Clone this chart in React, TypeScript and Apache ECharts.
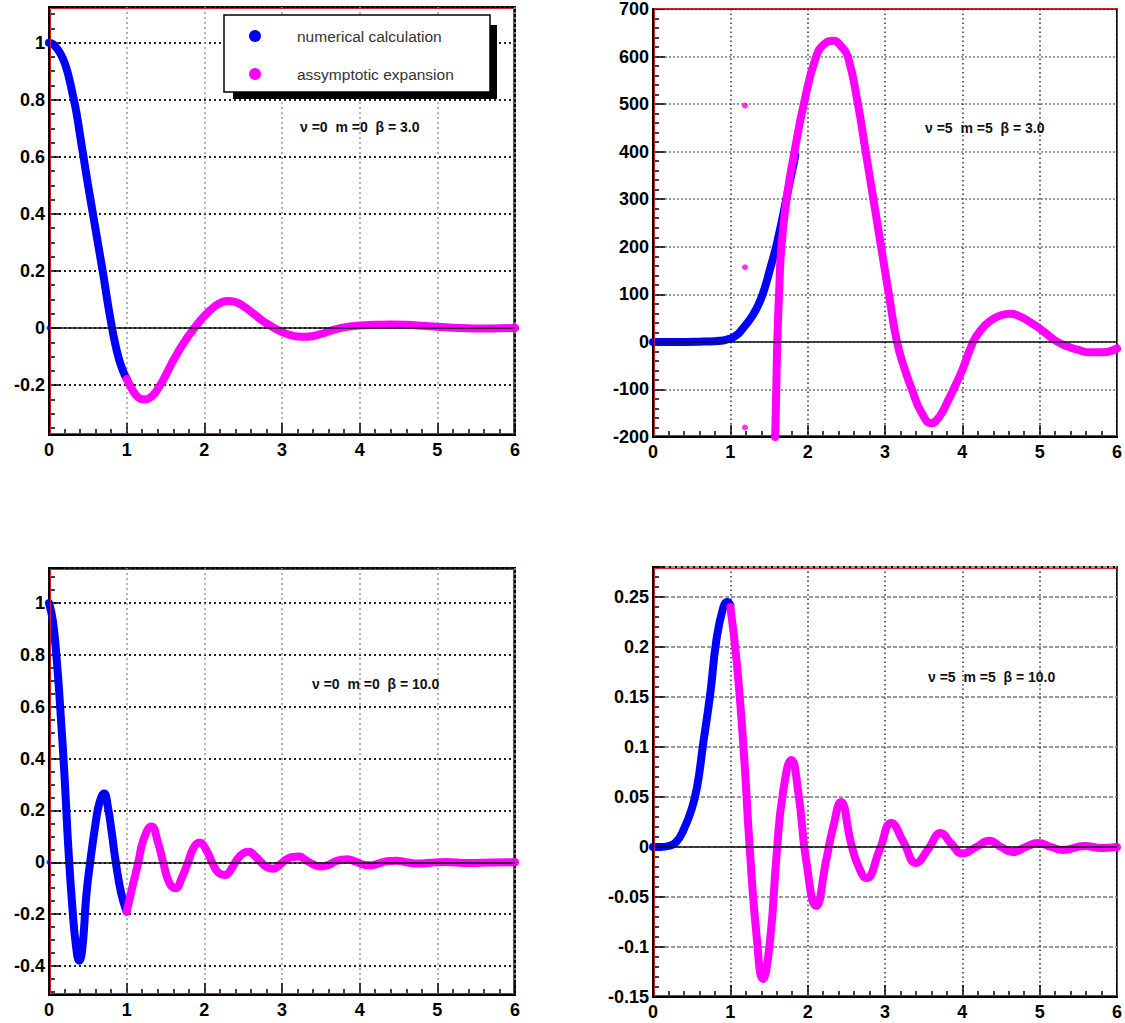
import React, { useEffect, useRef } from "react";
import * as echarts from "echarts";

type Pt = [number, number];

// ---------- data ----------
const legendLabels = ["numerical calculation", "assymptotic expansion"];
const panelTitles = [
  "ν =0  m =0  β = 3.0",
  "ν =5  m =5  β = 3.0",
  "ν =0  m =0  β = 10.0",
  "ν =5  m =5  β = 10.0",
];

// Panel 1: nu=0 m=0 beta=3
const p1Numerical: Pt[] = [
  [0, 1.0], [0.05, 0.995], [0.1, 0.98], [0.15, 0.96], [0.2, 0.93], [0.25, 0.885],
  [0.3, 0.825], [0.35, 0.76], [0.4, 0.675], [0.45, 0.59], [0.5, 0.505], [0.55, 0.425],
  [0.6, 0.345], [0.65, 0.265], [0.7, 0.185], [0.75, 0.098], [0.8, 0.018], [0.85, -0.052],
  [0.9, -0.108], [0.95, -0.148], [1.0, -0.178],
];
const p1Asymptotic: Pt[] = [
  [1.0, -0.178], [1.05, -0.205], [1.1, -0.228], [1.15, -0.243], [1.2, -0.25], [1.25, -0.25],
  [1.3, -0.244], [1.35, -0.232], [1.4, -0.214], [1.45, -0.192], [1.5, -0.167], [1.55, -0.14],
  [1.6, -0.114], [1.65, -0.09], [1.7, -0.067], [1.75, -0.046], [1.8, -0.026], [1.85, -0.008],
  [1.9, 0.01], [1.95, 0.027], [2.0, 0.042], [2.1, 0.068], [2.2, 0.087],
  [2.3, 0.095], [2.4, 0.091], [2.5, 0.077], [2.6, 0.057], [2.7, 0.036], [2.8, 0.016],
  [2.9, 0.0], [3.0, -0.014], [3.1, -0.024], [3.2, -0.03], [3.3, -0.031], [3.4, -0.028],
  [3.5, -0.021], [3.6, -0.012], [3.7, -0.004], [3.8, 0.002], [3.9, 0.006], [4.0, 0.009],
  [4.2, 0.011], [4.4, 0.012], [4.6, 0.011], [4.8, 0.008], [5.0, 0.004], [5.2, 0.001],
  [5.4, -0.001], [5.6, -0.002], [5.8, -0.001], [6.0, 0.0],
];
const p1Extra: Pt[] = [[0, 0]];

// Panel 2: nu=5 m=5 beta=3
const p2Numerical: Pt[] = [
  [0, 0], [0.3, 0], [0.6, 0.5], [0.8, 1.5], [0.9, 3], [1.0, 7], [1.08, 14], [1.16, 28],
  [1.22, 40], [1.29, 56], [1.36, 77], [1.42, 101], [1.47, 127], [1.52, 157], [1.58, 192],
  [1.63, 227], [1.68, 265], [1.72, 297], [1.76, 330], [1.8, 360], [1.84, 392],
];
const p2Asymptotic: Pt[] = [
  [1.58, -200], [1.594, -100], [1.607, 0], [1.63, 100], [1.66, 200], [1.727, 300],
  [1.83, 400], [1.95, 500], [2.11, 600], [2.22, 627], [2.336, 633], [2.44, 620],
  [2.52, 600], [2.65, 500], [2.75, 400], [2.85, 300], [2.95, 200], [3.05, 100],
  [3.155, 0], [3.25, -55], [3.35, -101], [3.47, -148], [3.6, -171], [3.7, -158],
  [3.82, -122], [3.92, -88], [4.0, -59], [4.14, 0], [4.25, 27], [4.37, 45], [4.5, 56],
  [4.62, 59], [4.75, 53], [4.88, 41], [5.0, 28], [5.12, 13], [5.23, 0], [5.37, -10],
  [5.5, -17], [5.65, -22], [5.8, -22], [6.0, -14],
];
const p2Stray: Pt[] = [[1.19, 497], [1.19, 157], [1.19, -180]];

// Panel 3: nu=0 m=0 beta=10
const p3Numerical: Pt[] = [
  [0, 1.0], [0.05, 0.93], [0.1, 0.78], [0.15, 0.57], [0.2, 0.33], [0.25, 0.05],
  [0.3, -0.17], [0.35, -0.33], [0.39, -0.38], [0.43, -0.33], [0.48, -0.13], [0.53, 0.0],
  [0.6, 0.15], [0.65, 0.23], [0.71, 0.265], [0.76, 0.21], [0.81, 0.11], [0.86, 0.0],
  [0.93, -0.12], [1.0, -0.19],
];
const p3Asymptotic: Pt[] = [
  [1.0, -0.19], [1.07, -0.1], [1.15, 0.0], [1.22, 0.09], [1.32, 0.138], [1.4, 0.08],
  [1.47, 0.0], [1.55, -0.08], [1.63, -0.1], [1.71, -0.06], [1.79, 0.0], [1.86, 0.055],
  [1.94, 0.076], [2.02, 0.05], [2.1, 0.0], [2.18, -0.04], [2.27, -0.049], [2.35, -0.025],
  [2.42, 0.01], [2.5, 0.035], [2.57, 0.041], [2.65, 0.025], [2.73, 0.0], [2.81, -0.02],
  [2.89, -0.025], [2.97, -0.01], [3.05, 0.01], [3.13, 0.02], [3.22, 0.022], [3.3, 0.01],
  [3.4, -0.008], [3.5, -0.016], [3.6, -0.01], [3.7, 0.005], [3.84, 0.012], [3.95, 0.002],
  [4.05, -0.009], [4.13, -0.012], [4.25, -0.004], [4.35, 0.004], [4.47, 0.006], [4.6, 0.0],
  [4.75, -0.005], [4.9, -0.002], [5.1, 0.001], [5.4, -0.003], [5.7, -0.001], [6.0, 0.0],
];
const p3Extra: Pt[] = [[0, 0]];

// Panel 4: nu=5 m=5 beta=10
const p4Numerical: Pt[] = [
  [0, 0], [0.1, 0], [0.2, 0.001], [0.3, 0.005], [0.4, 0.018], [0.5, 0.038], [0.57, 0.06],
  [0.65, 0.104], [0.74, 0.153], [0.82, 0.207], [0.91, 0.24], [0.96, 0.245], [1.0, 0.242],
];
const p4Asymptotic: Pt[] = [
  [1.0, 0.24], [1.08, 0.187], [1.17, 0.1], [1.25, 0.0], [1.34, -0.089], [1.42, -0.132],
  [1.51, -0.096], [1.6, -0.006], [1.68, 0.054], [1.79, 0.087], [1.88, 0.054], [1.98, -0.013],
  [2.11, -0.059], [2.24, -0.013], [2.33, 0.02], [2.43, 0.045], [2.56, 0.004], [2.66, -0.02],
  [2.76, -0.031], [2.93, -0.003], [3.08, 0.024], [3.24, 0.005], [3.4, -0.016], [3.56, -0.002],
  [3.72, 0.014], [3.86, 0.003], [4.0, -0.0066], [4.18, 0.0], [4.35, 0.0063], [4.5, 0.0],
  [4.65, -0.005], [4.82, 0.0], [4.98, 0.004], [5.15, 0.0], [5.3, -0.003], [5.58, 0.001],
  [5.8, -0.001], [6.0, 0.0],
];

// ---------- layout / style ----------
const BLUE = "#0000ff";
const MAGENTA = "#ff00ff";
const FONT = "'Liberation Sans', Arial, Helvetica, sans-serif";
const LINE_W = 8;

type Panel = {
  box: { left: number; top: number; width: number; height: number };
  yMin: number;
  yMax: number;
  yStep: number;
  yMinor: number;
  hideMin: boolean;
  hideMax: boolean;
  ySplit: any;
  xSplit: any;
  numerical: Pt[];
  asymptotic: Pt[];
  extraBlue?: Pt[];
  extraMagenta?: Pt[];
  title: string;
  titlePos: [number, number];
};

const panels: Panel[] = [
  {
    box: { left: 49, top: 7, width: 466, height: 428 },
    yMin: -0.375, yMax: 1.125, yStep: 0.2, yMinor: 4, hideMin: true, hideMax: true,
    ySplit: { color: "#222", type: [2, 3], width: 2 },
    xSplit: { color: "#999", type: [2, 3], width: 1.5 },
    numerical: p1Numerical, asymptotic: p1Asymptotic, extraBlue: p1Extra,
    title: panelTitles[0], titlePos: [300, 127],
  },
  {
    box: { left: 653, top: 7, width: 466, height: 430 },
    yMin: -200, yMax: 700, yStep: 100, yMinor: 5, hideMin: false, hideMax: false,
    ySplit: { color: "#777", type: [2, 2], width: 1.5 },
    xSplit: { color: "#333", type: [1.5, 3], width: 1.5 },
    numerical: p2Numerical, asymptotic: p2Asymptotic, extraMagenta: p2Stray,
    title: panelTitles[1], titlePos: [925, 128],
  },
  {
    box: { left: 49, top: 568, width: 466, height: 427 },
    yMin: -0.512, yMax: 1.135, yStep: 0.2, yMinor: 4, hideMin: true, hideMax: true,
    ySplit: { color: "#222", type: [2, 3], width: 2 },
    xSplit: { color: "#999", type: [2, 3], width: 1.5 },
    numerical: p3Numerical, asymptotic: p3Asymptotic, extraBlue: p3Extra,
    title: panelTitles[2], titlePos: [312, 684],
  },
  {
    box: { left: 653, top: 567, width: 466, height: 430 },
    yMin: -0.15, yMax: 0.28, yStep: 0.05, yMinor: 5, hideMin: false, hideMax: true,
    ySplit: { color: "#999", type: [4, 2], width: 2 },
    xSplit: { color: "#333", type: [1.5, 3], width: 1.5 },
    numerical: p4Numerical, asymptotic: p4Asymptotic,
    title: panelTitles[3], titlePos: [928, 677],
  },
];

function buildOption() {
  const grid: any[] = [];
  const xAxis: any[] = [];
  const yAxis: any[] = [];
  const series: any[] = [];
  const graphic: any[] = [];

  panels.forEach((p, i) => {
    grid.push({
      ...p.box,
      show: true,
      borderColor: "#000",
      borderWidth: 2,
      backgroundColor: "#fff",
      containLabel: false,
    });
    xAxis.push({
      type: "value",
      gridIndex: i,
      min: 0,
      max: 6,
      interval: 1,
      axisLine: { show: true, onZero: false, lineStyle: { color: "#000", width: 2 } },
      axisTick: { show: true, inside: true, length: 12, lineStyle: { color: "#000", width: 1.5 } },
      minorTick: { show: true, splitNumber: 5, length: 6, lineStyle: { color: "#000", width: 1.5 } },
      splitLine: { show: true, lineStyle: p.xSplit },
      axisLabel: {
        show: true, margin: 6, color: "#000", fontSize: 18, fontWeight: "bold", fontFamily: FONT,
      },
    });
    yAxis.push({
      type: "value",
      gridIndex: i,
      min: p.yMin,
      max: p.yMax,
      splitNumber: Math.round((p.yMax - p.yMin) / p.yStep),
      minInterval: p.yStep,
      maxInterval: p.yStep,
      axisLine: { show: true, onZero: false, lineStyle: { color: "#000", width: 2 } },
      axisTick: { show: true, inside: true, length: 12, lineStyle: { color: "#000", width: 1.5 } },
      minorTick: { show: true, splitNumber: p.yMinor, length: 6, lineStyle: { color: "#000", width: 1.5 } },
      splitLine: { show: true, lineStyle: p.ySplit },
      axisLabel: {
        show: true, margin: 4, color: "#000", fontSize: 18, fontWeight: "bold", fontFamily: FONT,
        showMinLabel: !p.hideMin, showMaxLabel: !p.hideMax,
      },
    });

    // zero reference line
    series.push({
      type: "line",
      xAxisIndex: i,
      yAxisIndex: i,
      data: [],
      z: 1,
      silent: true,
      markLine: {
        silent: true,
        symbol: "none",
        animation: false,
        label: { show: false },
        lineStyle: { color: "#111", width: 1.5, type: "solid" },
        data: [{ yAxis: 0 }],
      },
    });
    series.push({
      name: legendLabels[0],
      type: "line",
      xAxisIndex: i,
      yAxisIndex: i,
      data: p.numerical,
      smooth: 0.5,
      showSymbol: false,
      clip: true,
      z: 3,
      lineStyle: { color: BLUE, width: LINE_W, cap: "round", join: "round" },
      itemStyle: { color: BLUE },
    });
    series.push({
      name: legendLabels[1],
      type: "line",
      xAxisIndex: i,
      yAxisIndex: i,
      data: p.asymptotic,
      smooth: 0.5,
      showSymbol: false,
      clip: true,
      z: 4,
      lineStyle: { color: MAGENTA, width: LINE_W, cap: "round", join: "round" },
      itemStyle: { color: MAGENTA },
    });
    if (p.extraBlue) {
      series.push({
        type: "scatter", xAxisIndex: i, yAxisIndex: i, data: p.extraBlue,
        symbolSize: 5, itemStyle: { color: BLUE }, z: 3,
      });
    }
    if (p.extraMagenta) {
      series.push({
        type: "scatter", xAxisIndex: i, yAxisIndex: i, data: p.extraMagenta,
        symbolSize: 6, itemStyle: { color: MAGENTA }, z: 4,
      });
    }

    // thin red inner frame (ROOT frame look)
    graphic.push({
      type: "rect",
      z: 50,
      silent: true,
      shape: { x: p.box.left + 1.5, y: p.box.top + 1.5, width: p.box.width - 3, height: p.box.height - 3 },
      style: { fill: "none", stroke: "#cc2222", lineWidth: 1 },
    });
    graphic.push({
      type: "text",
      z: 60,
      x: p.titlePos[0],
      y: p.titlePos[1],
      style: {
        text: p.title,
        fontSize: 14,
        fontWeight: "bold",
        fontFamily: FONT,
        fill: "#111",
        verticalAlign: "middle",
      },
    });
  });

  // legend box (top-left panel)
  graphic.push(
    { type: "rect", z: 70, shape: { x: 233, y: 25, width: 264, height: 74 }, style: { fill: "#000" } },
    {
      type: "rect", z: 71, shape: { x: 224, y: 15, width: 266, height: 77 },
      style: { fill: "#fff", stroke: "#000", lineWidth: 1.5 },
    },
    { type: "circle", z: 72, shape: { cx: 255, cy: 36, r: 6 }, style: { fill: BLUE } },
    { type: "circle", z: 72, shape: { cx: 255, cy: 74, r: 6 }, style: { fill: MAGENTA } },
    {
      type: "text", z: 72, x: 297, y: 36,
      style: { text: legendLabels[0], fontSize: 15.5, fontFamily: FONT, fill: "#333", verticalAlign: "middle" },
    },
    {
      type: "text", z: 72, x: 297, y: 74,
      style: { text: legendLabels[1], fontSize: 15.5, fontFamily: FONT, fill: "#333", verticalAlign: "middle" },
    }
  );

  return {
    animation: false,
    backgroundColor: "#fff",
    grid,
    xAxis,
    yAxis,
    series,
    graphic,
  };
}

export default function App() {
  const ref = useRef<HTMLDivElement>(null);
  useEffect(() => {
    if (!ref.current) return;
    const chart = echarts.init(ref.current, undefined, { renderer: "svg" });
    chart.setOption(buildOption());
    return () => chart.dispose();
  }, []);
  return (
    <div
      ref={ref}
      style={{ position: "absolute", left: 0, top: 0, width: 1125, height: 1023, background: "#fff" }}
    />
  );
}
